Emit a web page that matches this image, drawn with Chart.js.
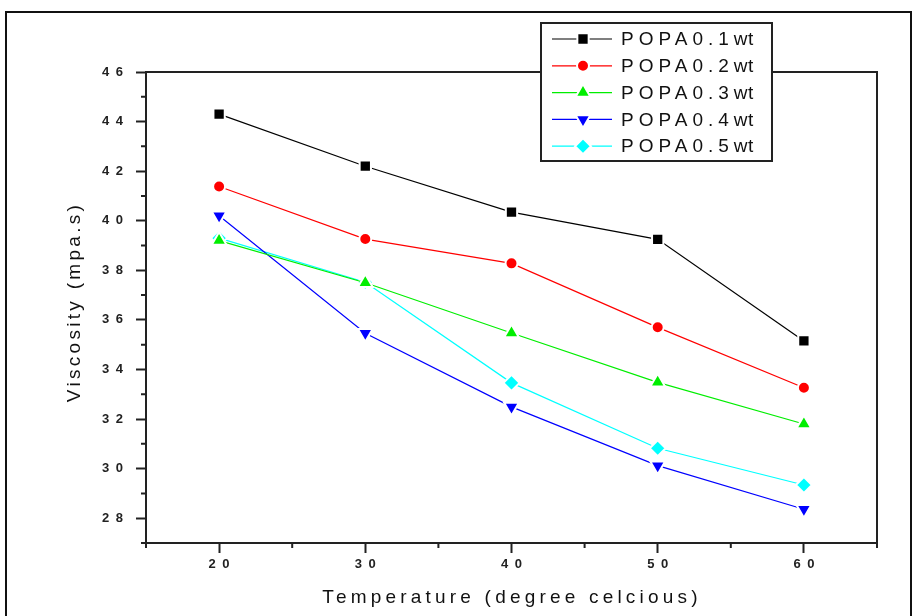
<!DOCTYPE html>
<html>
<head>
<meta charset="utf-8">
<script src="https://cdn.jsdelivr.net/npm/chart.js@4/dist/chart.umd.min.js"></script>
<style>
  html, body { margin: 0; padding: 0; background: #fff; }
  #wrap { position: relative; width: 915px; height: 616px; overflow: hidden; }
  #frame { position: absolute; left: 5px; top: 11px; width: 907px; height: 620px; border: 2px solid #111; box-sizing: border-box; }
  #chart { position: absolute; left: 0; top: 0; }
</style>
</head>
<body>
<div id="wrap">
  <div id="frame"></div>
  <canvas id="chart" width="915" height="616"></canvas>
</div>
<script>
// temperatura (graus) e viscosidade de cada amostra
const temperaturas = [20, 30, 40, 50, 60];
const popa01 = [44.3, 42.2, 40.35, 39.25, 35.15];
const popa02 = [41.38, 39.26, 38.28, 35.7, 33.26];
const popa03 = [39.2, 37.5, 35.47, 33.48, 31.8];
const popa04 = [40.2, 35.46, 32.49, 30.12, 28.36];
const popa05 = [39.3, 37.52, 33.46, 30.82, 29.34];

const nomes = ["POPA0.1wt", "POPA0.2wt", "POPA0.3wt", "POPA0.4wt", "POPA0.5wt"];
const cores = ["#000000", "#ff0000", "#00ee00", "#0000ff", "#00ffff"];
const marcadores = ["rect", "circle", "triangle", "triangle", "rectRot"];
const rotacoes = [0, 0, 0, 180, 0];
const raios = [8, 6, 8.5, 8.5, 8];

const xTicks = [20, 30, 40, 50, 60];
const yTicks = [28, 30, 32, 34, 36, 38, 40, 42, 44, 46];

function espacar(v) {
  return String(v).split("").join("\u2002");
}

const series = [popa01, popa02, popa03, popa04, popa05];
const datasets = series.map((valores, i) => ({
  label: nomes[i],
  data: valores.map((v, k) => ({ x: temperaturas[k], y: v })),
  borderColor: cores[i],
  borderWidth: 1.2,
  backgroundColor: cores[i],
  pointStyle: marcadores[i],
  rotation: rotacoes[i],
  pointRadius: raios[i],
  pointHoverRadius: raios[i],
  pointBackgroundColor: cores[i],
  pointBorderColor: "#ffffff",
  pointBorderWidth: 2,
  tension: 0,
}));

// ticks menores, moldura e titulos dos eixos
const moldura = {
  id: "moldura",
  afterDatasetsDraw(chart) {
    const { ctx, chartArea: a, scales } = chart;
    ctx.save();
    ctx.strokeStyle = "#222";
    ctx.lineWidth = 2;
    ctx.beginPath();
    ctx.moveTo(a.left, a.top);
    ctx.lineTo(a.right, a.top);
    ctx.lineTo(a.right, a.bottom);
    ctx.stroke();
    // ticks menores
    ctx.beginPath();
    for (let v = 27; v <= 45; v += 2) {
      const y = scales.y.getPixelForValue(v);
      ctx.moveTo(a.left - 5, y);
      ctx.lineTo(a.left, y);
    }
    for (let v = 15; v <= 65; v += 10) {
      const x = scales.x.getPixelForValue(v);
      ctx.moveTo(x, a.bottom);
      ctx.lineTo(x, a.bottom + 5);
    }
    ctx.stroke();

    ctx.fillStyle = "#111";
    ctx.font = "19px 'Liberation Sans', Arial, sans-serif";
    ctx.textAlign = "center";
    ctx.textBaseline = "middle";
    ctx.letterSpacing = "4.2px";
    ctx.fillText("Temperature (degree celcious)", 512, 598);
    ctx.letterSpacing = "3.3px";
    ctx.translate(75, 302);
    ctx.rotate(-Math.PI / 2);
    ctx.fillText("Viscosity (mpa.s)", 0, 0);
    ctx.restore();
  },
  afterDraw(chart) {
    const { ctx } = chart;
    const box = { x: 541, y: 23, w: 231, h: 138 };
    ctx.save();
    ctx.fillStyle = "#fff";
    ctx.fillRect(box.x, box.y, box.w, box.h);
    ctx.strokeStyle = "#222";
    ctx.lineWidth = 2;
    ctx.strokeRect(box.x, box.y, box.w, box.h);
    chart.data.datasets.forEach((ds, i) => {
      const y = 39 + i * 26.8;
      ctx.strokeStyle = ds.borderColor;
      ctx.lineWidth = 1.2;
      ctx.beginPath();
      ctx.moveTo(552, y);
      ctx.lineTo(612, y);
      ctx.stroke();
      ctx.fillStyle = ds.pointBackgroundColor;
      ctx.strokeStyle = "#fff";
      ctx.lineWidth = 2;
      Chart.helpers.drawPoint(ctx, {
        pointStyle: ds.pointStyle,
        rotation: ds.rotation,
        radius: ds.pointRadius,
        borderWidth: 2,
      }, 583, y);
      ctx.fillStyle = "#111";
      ctx.font = "19px 'Liberation Sans', Arial, sans-serif";
      ctx.textAlign = "left";
      ctx.textBaseline = "middle";
      ctx.letterSpacing = "5px";
      ctx.fillText(ds.label.slice(0, 7), 621, y + 1);
      const w = ctx.measureText(ds.label.slice(0, 7)).width;
      ctx.letterSpacing = "0.5px";
      ctx.fillText(ds.label.slice(7), 621 + w, y + 1);
    });
    ctx.restore();
  },
};

new Chart(document.getElementById("chart"), {
  type: "line",
  data: { datasets: datasets },
  options: {
    responsive: false,
    animation: false,
    layout: { padding: { left: 0, top: 72, right: 38, bottom: 0 } },
    plugins: {
      legend: { display: false },
      tooltip: { enabled: false },
    },
    scales: {
      x: {
        type: "linear",
        min: 15,
        max: 65,
        afterFit: (s) => { s.height = 73; },
        afterBuildTicks: (s) => { s.ticks = xTicks.map((v) => ({ value: v })); },
        ticks: {
          color: "#222",
          padding: 4,
          font: { family: "'Liberation Sans', Arial", size: 13, weight: "bold" },
          callback: (v) => espacar(v),
        },
        grid: { drawOnChartArea: false, tickLength: 10, tickColor: "#222", tickWidth: 2 },
        border: { color: "#222", width: 2 },
      },
      y: {
        type: "linear",
        min: 27,
        max: 46,
        afterFit: (s) => { s.width = 146; },
        afterBuildTicks: (s) => { s.ticks = yTicks.map((v) => ({ value: v })); },
        ticks: {
          color: "#222",
          padding: 13,
          font: { family: "'Liberation Sans', Arial", size: 13, weight: "bold" },
          callback: (v) => espacar(v),
        },
        grid: { drawOnChartArea: false, tickLength: 10, tickColor: "#222", tickWidth: 2 },
        border: { color: "#222", width: 2 },
      },
    },
  },
  plugins: [moldura],
});
</script>
</body>
</html>
